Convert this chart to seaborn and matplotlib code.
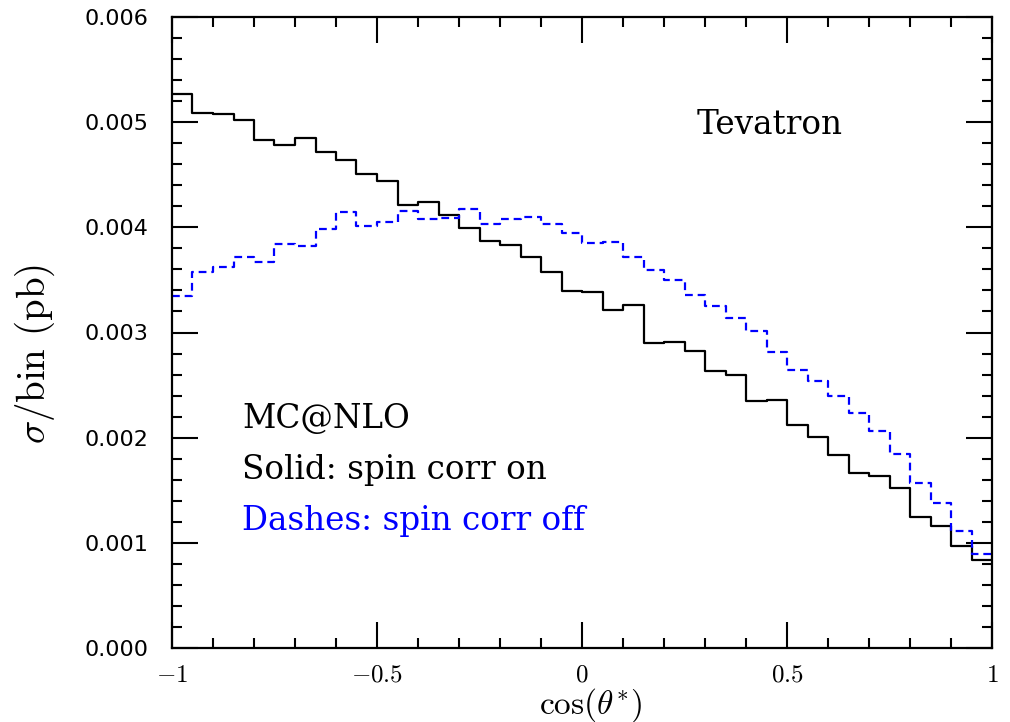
import numpy as np
import pandas as pd
import matplotlib
matplotlib.use("Agg")
import matplotlib.pyplot as plt
from matplotlib.ticker import MultipleLocator, FixedLocator, FixedFormatter
import seaborn as sns

# ---- data ----
bin_edges_lo = -1.0
bin_edges_hi = 1.0
n_bins = 40
spin_on = [5.27, 5.09, 5.08, 5.02, 4.83, 4.78, 4.85, 4.72, 4.64, 4.51,
           4.44, 4.21, 4.245, 4.12, 3.99, 3.873, 3.83, 3.718, 3.578, 3.397,
           3.385, 3.217, 3.258, 2.897, 2.907, 2.82, 2.637, 2.596, 2.349, 2.361,
           2.117, 2.01, 1.838, 1.667, 1.635, 1.518, 1.249, 1.16, 0.97, 0.837]
spin_off = [3.35, 3.578, 3.62, 3.72, 3.667, 3.845, 3.822, 3.984, 4.143, 4.016,
            4.054, 4.158, 4.08, 4.085, 4.17, 4.03, 4.076, 4.098, 4.035, 3.943,
            3.848, 3.864, 3.721, 3.597, 3.499, 3.36, 3.252, 3.141, 3.011, 2.811,
            2.643, 2.542, 2.399, 2.234, 2.063, 1.845, 1.569, 1.382, 1.112, 0.894]
spin_on = [v * 1e-3 for v in spin_on]
spin_off = [v * 1e-3 for v in spin_off]
x_ticks = [-1, -0.5, 0, 0.5, 1]
x_ticklabels = [r"$-1$", r"$-0.5$", r"$0$", r"$0.5$", r"$1$"]
y_ticks = [0.000, 0.001, 0.002, 0.003, 0.004, 0.005, 0.006]
y_ticklabels = ["0.000", "0.001", "0.002", "0.003", "0.004", "0.005", "0.006"]

width = (bin_edges_hi - bin_edges_lo) / n_bins
centers = bin_edges_lo + width * (np.arange(n_bins) + 0.5)
df = pd.DataFrame({"x": np.concatenate([centers, centers]),
                   "w": spin_on + spin_off,
                   "series": ["on"] * n_bins + ["off"] * n_bins})

sns.set_style("ticks")
plt.rcParams["font.family"] = ["cmr10", "DejaVu Serif"]
plt.rcParams["mathtext.fontset"] = "cm"
plt.rcParams["axes.formatter.use_mathtext"] = True
plt.rcParams["text.color"] = "black"
plt.rcParams["axes.labelcolor"] = "black"
plt.rcParams["xtick.color"] = "black"
plt.rcParams["ytick.color"] = "black"
plt.rcParams["xtick.labelcolor"] = "black"
plt.rcParams["ytick.labelcolor"] = "black"

fig = plt.figure(figsize=(10.1, 7.22), dpi=100)
ax = fig.add_axes([172 / 1010, 1 - 648 / 722, 820 / 1010, 631 / 722])

sns.histplot(data=df[df.series == "on"], x="x", weights="w", bins=n_bins,
             binrange=(bin_edges_lo, bin_edges_hi), element="step", fill=False,
             color="black", linewidth=1.6, ax=ax)
sns.histplot(data=df[df.series == "off"], x="x", weights="w", bins=n_bins,
             binrange=(bin_edges_lo, bin_edges_hi), element="step", fill=False,
             color="blue", linewidth=1.6, linestyle=(0, (3.5, 2.2)), ax=ax)

ax.set_xlim(-1, 1)
ax.set_ylim(0, 0.006)
ax.xaxis.set_major_locator(FixedLocator(x_ticks))
ax.xaxis.set_major_formatter(FixedFormatter(x_ticklabels))
ax.xaxis.set_minor_locator(MultipleLocator(0.1))
ax.yaxis.set_major_locator(FixedLocator(y_ticks))
ax.yaxis.set_major_formatter(FixedFormatter(y_ticklabels))
ax.yaxis.set_minor_locator(MultipleLocator(0.0002))

ax.tick_params(which="both", direction="in", top=True, right=True, width=1.5,
               color="black", labelcolor="black")
ax.tick_params(which="major", length=19)
ax.tick_params(which="minor", length=7)
ax.tick_params(axis="x", labelsize=18, pad=12)
ax.tick_params(axis="y", labelsize=16, pad=17)
for lab in ax.get_yticklabels():
    lab.set_family(["DejaVu Sans"])
for sp in ax.spines.values():
    sp.set_linewidth(1.6)
    sp.set_color("black")

ax.set_xlabel(r"cos($\theta^{*}$)", fontsize=24, color="black")
ax.xaxis.set_label_coords(0.51, -0.060)
ax.set_ylabel(r"$\sigma$/bin (pb)", fontsize=28, color="black")
ax.yaxis.set_label_coords(-0.140, 0.466)

ann_font = ["DejaVu Serif"]
ax.text(0.4585, 0.00497, "Tevatron", fontsize=23.5, va="center", ha="center",
        family=ann_font, color="black")
ax.text(-0.829, 0.00218, "MC@NLO", fontsize=23.5, va="center", ha="left",
        family=ann_font, color="black")
ax.text(-0.829, 0.00169, "Solid: spin corr on", fontsize=23.5, va="center",
        ha="left", family=ann_font, color="black")
ax.text(-0.829, 0.00121, "Dashes: spin corr off", fontsize=23.5, va="center",
        ha="left", color="blue", family=ann_font)

fig.savefig("out.png", dpi=100)
